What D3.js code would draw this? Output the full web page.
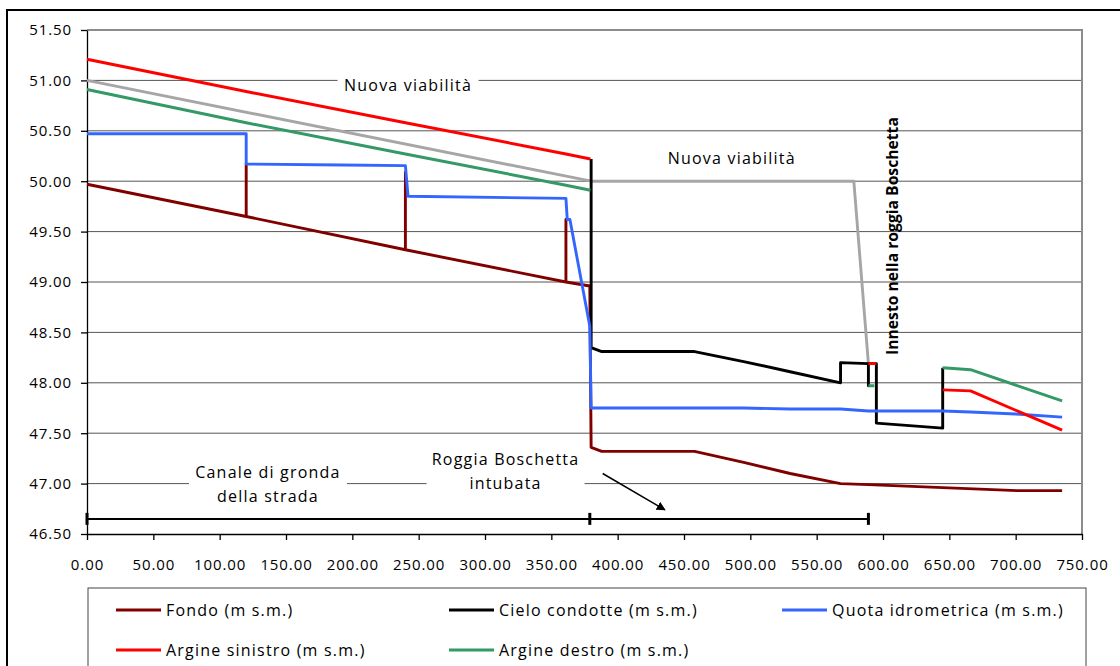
<html>
<head>
<meta charset="utf-8">
<script src="https://d3js.org/d3.v7.min.js"></script>
<style>
  body { margin: 0; background: #fff; }
  text { font-family: "Open Sans", sans-serif; fill: #000; }
</style>
<script type="text/javascript">

// progressive distance (m) and levels (m s.m.)
var fondoX = [0, 120, 120, 120, 240, 240, 240, 361, 361, 361, 379, 380, 388, 458, 495, 530, 568, 589, 645, 701, 735];
var fondoY = [49.97, 49.65, 50.17, 49.65, 49.32, 50.09, 49.32, 49.00, 49.62, 49.00, 48.96, 47.36, 47.32, 47.32, 47.21, 47.10, 47.00, 46.99, 46.96, 46.93, 46.93];

var cieloX = [380, 380, 388, 458, 495, 530, 568, 568, 589, 589, 589, 595, 595, 645, 645];
var cieloY = [50.22, 48.35, 48.31, 48.31, 48.21, 48.11, 48.00, 48.20, 48.19, 47.97, 48.19, 48.19, 47.60, 47.55, 48.15];

var quotaX = [0, 120, 120, 192, 240, 242, 361, 362, 364, 379, 380, 495, 530, 568, 589, 645, 666, 700, 735];
var quotaY = [50.47, 50.47, 50.17, 50.16, 50.155, 49.85, 49.83, 49.62, 49.62, 48.56, 47.75, 47.75, 47.74, 47.74, 47.72, 47.72, 47.71, 47.69, 47.66];

var sinistroX = [0, 120, 240, 361, 379.5, null, 589, 595, null, 645, 666, 735];
var sinistroY = [51.21, 50.89, 50.58, 50.27, 50.22, null, 48.19, 48.19, null, 47.93, 47.92, 47.53];

var destroX = [0, 120, 240, 361, 379.5, null, 589, 593.5, null, 645, 666, 735];
var destroY = [50.91, 50.58, 50.27, 49.96, 49.91, null, 47.97, 47.97, null, 48.15, 48.13, 47.82];

var viabX = [0, 380, 578, 589];
var viabY = [51.00, 50.00, 50.00, 48.19];

var xTicks = d3.range(0, 751, 50);
var yTicks = [46.5, 47.0, 47.5, 48.0, 48.5, 49.0, 49.5, 50.0, 50.5, 51.0, 51.5];

var seriesNames = ["Fondo (m s.m.)", "Cielo condotte (m s.m.)", "Quota idrometrica (m s.m.)", "Argine sinistro (m s.m.)", "Argine destro (m s.m.)"];
var seriesColors = ["#800000", "#000000", "#3366ff", "#ff0000", "#339966"];

// dimension line under the profile (stations) and arrow
var dimStations = [0, 379, 589];
var dimLevel = 46.65;

window.onload = function()
{
  var svg = d3.select("body").append("svg").attr("width", 1120).attr("height", 666),
      margin = {top: 30, right: 38, bottom: 132, left: 87},
      width = 1120 - margin.left - margin.right,
      height = 666 - margin.top - margin.bottom;

  // chart area frame
  svg.append("rect").attr("x", 7).attr("y", 10).attr("width", 1140).attr("height", 700)
     .attr("fill", "#fff").attr("stroke", "#000").attr("stroke-width", 2);

  var g = svg.append("g").attr("transform", "translate(" + margin.left + "," + margin.top + ")");

  var x = d3.scaleLinear().domain([0, 750]).range([0, width]),
      y = d3.scaleLinear().domain([46.5, 51.5]).range([height, 0]);

  // grid
  g.selectAll(".grid").data(yTicks.filter(function(d) { return d > 46.5 && d < 51.5; }))
    .enter().append("line")
      .attr("x1", 0).attr("x2", width)
      .attr("y1", function(d) { return y(d); }).attr("y2", function(d) { return y(d); })
      .attr("stroke", "#555").attr("stroke-width", 1);

  // plot area border (top / right)
  g.append("path").attr("d", "M0,0H" + width + "V" + height)
    .attr("fill", "none").attr("stroke", "#8c8c8c").attr("stroke-width", 2);

  // axes
  var fmt = d3.format(".2f");
  var xAxis = g.append("g").attr("transform", "translate(0," + height + ")")
      .call(d3.axisBottom(x).tickValues(xTicks).tickSize(6).tickSizeOuter(0).tickPadding(19).tickFormat(fmt));
  var yAxis = g.append("g")
      .call(d3.axisLeft(y).tickValues(yTicks).tickSize(6).tickSizeOuter(0).tickPadding(9).tickFormat(fmt));
  [xAxis, yAxis].forEach(function(a) {
    a.selectAll("path, line").attr("stroke", "#000").attr("stroke-width", 1.3);
    a.selectAll("text").style("font-family", "'Open Sans', sans-serif").style("font-size", "15px")
      .style("letter-spacing", "0.9px").attr("fill", "#000");
  });

  // text boxes laid over the grid
  var notes = [
    {lines: ["Nuova viabilità"], x: 242, y: 50.955, w: 141},
    {lines: ["Nuova viabilità"], x: 486, y: 50.23, w: 140},
    {lines: ["Canale di gronda", "della strada"], x: 136.4, y: 46.99, w: 158},
    {lines: ["Roggia Boschetta", "intubata"], x: 315.5, y: 47.12, w: 158}
  ];
  notes.forEach(function(n) {
    var h = n.lines.length * 24 + 2;
    g.append("rect").attr("x", x(n.x) - n.w / 2).attr("y", y(n.y) - h / 2)
      .attr("width", n.w).attr("height", h).attr("fill", "#fff");
    n.lines.forEach(function(t, i) {
      g.append("text")
        .attr("x", x(n.x)).attr("y", y(n.y) + (i - (n.lines.length - 1) / 2) * 24)
        .attr("dy", "0.35em").attr("text-anchor", "middle")
        .style("font-size", "16px").style("letter-spacing", "1.2px")
        .text(t);
    });
  });

  // rotated label
  g.append("text")
    .attr("transform", "translate(" + x(606.8) + "," + y(49.456) + ") rotate(-90)")
    .attr("text-anchor", "middle").attr("dy", "0.35em")
    .style("font-size", "15.7px").style("font-weight", "bold")
    .text("Innesto nella roggia Boschetta");

  // dimension line
  g.append("line").attr("x1", x(0)).attr("x2", x(589))
    .attr("y1", y(dimLevel)).attr("y2", y(dimLevel))
    .attr("stroke", "#000").attr("stroke-width", 2);
  g.selectAll(".dimtick").data(dimStations).enter().append("line")
    .attr("x1", function(d) { return x(d); }).attr("x2", function(d) { return x(d); })
    .attr("y1", y(dimLevel) - 6).attr("y2", y(dimLevel) + 6)
    .attr("stroke", "#000").attr("stroke-width", 3);

  // arrow
  svg.append("defs").append("marker").attr("id", "arr")
    .attr("viewBox", "0 0 10 10").attr("refX", 9).attr("refY", 5)
    .attr("markerWidth", 9).attr("markerHeight", 9).attr("orient", "auto")
    .attr("markerUnits", "userSpaceOnUse")
    .append("path").attr("d", "M0,0L10,5L0,10z").attr("fill", "#000");
  g.append("line").attr("x1", x(388.7)).attr("y1", y(47.10))
    .attr("x2", x(435.6)).attr("y2", y(46.74))
    .attr("stroke", "#000").attr("stroke-width", 1.5).attr("marker-end", "url(#arr)");

  // profile lines
  var line = d3.line()
    .defined(function(d) { return d[0] !== null && d[1] !== null; })
    .x(function(d) { return x(d[0]); })
    .y(function(d) { return y(d[1]); });

  function pairs(xs, ys) { return xs.map(function(v, i) { return [v, ys[i]]; }); }

  var series = [
    {pts: pairs(viabX, viabY), color: "#a6a6a6"},
    {pts: pairs(fondoX, fondoY), color: seriesColors[0]},
    {pts: pairs(cieloX, cieloY), color: seriesColors[1]},
    {pts: pairs(quotaX, quotaY), color: seriesColors[2]},
    {pts: pairs(sinistroX, sinistroY), color: seriesColors[3]},
    {pts: pairs(destroX, destroY), color: seriesColors[4]}
  ];
  g.selectAll(".profile").data(series).enter().append("path")
    .attr("class", "profile")
    .attr("d", function(d) { return line(d.pts); })
    .attr("fill", "none")
    .attr("stroke", function(d) { return d.color; })
    .attr("stroke-width", 2.9)
    .attr("stroke-linejoin", "round");

  // legend
  var lg = svg.append("g");
  lg.append("rect").attr("x", 88).attr("y", 588).attr("width", 998).attr("height", 120)
    .attr("fill", "#fff").attr("stroke", "#444").attr("stroke-width", 1);
  var legPos = [[116, 610], [449, 610], [782, 610], [116, 650], [449, 650]];
  seriesNames.forEach(function(name, i) {
    var p = legPos[i];
    lg.append("line").attr("x1", p[0]).attr("x2", p[0] + 45).attr("y1", p[1]).attr("y2", p[1])
      .attr("stroke", seriesColors[i]).attr("stroke-width", 3);
    lg.append("text").attr("x", p[0] + 50).attr("y", p[1]).attr("dy", "0.35em")
      .style("font-size", "16px").style("letter-spacing", "1.2px").text(name);
  });
}

</script>
</head>
<body>
</body>
</html>
